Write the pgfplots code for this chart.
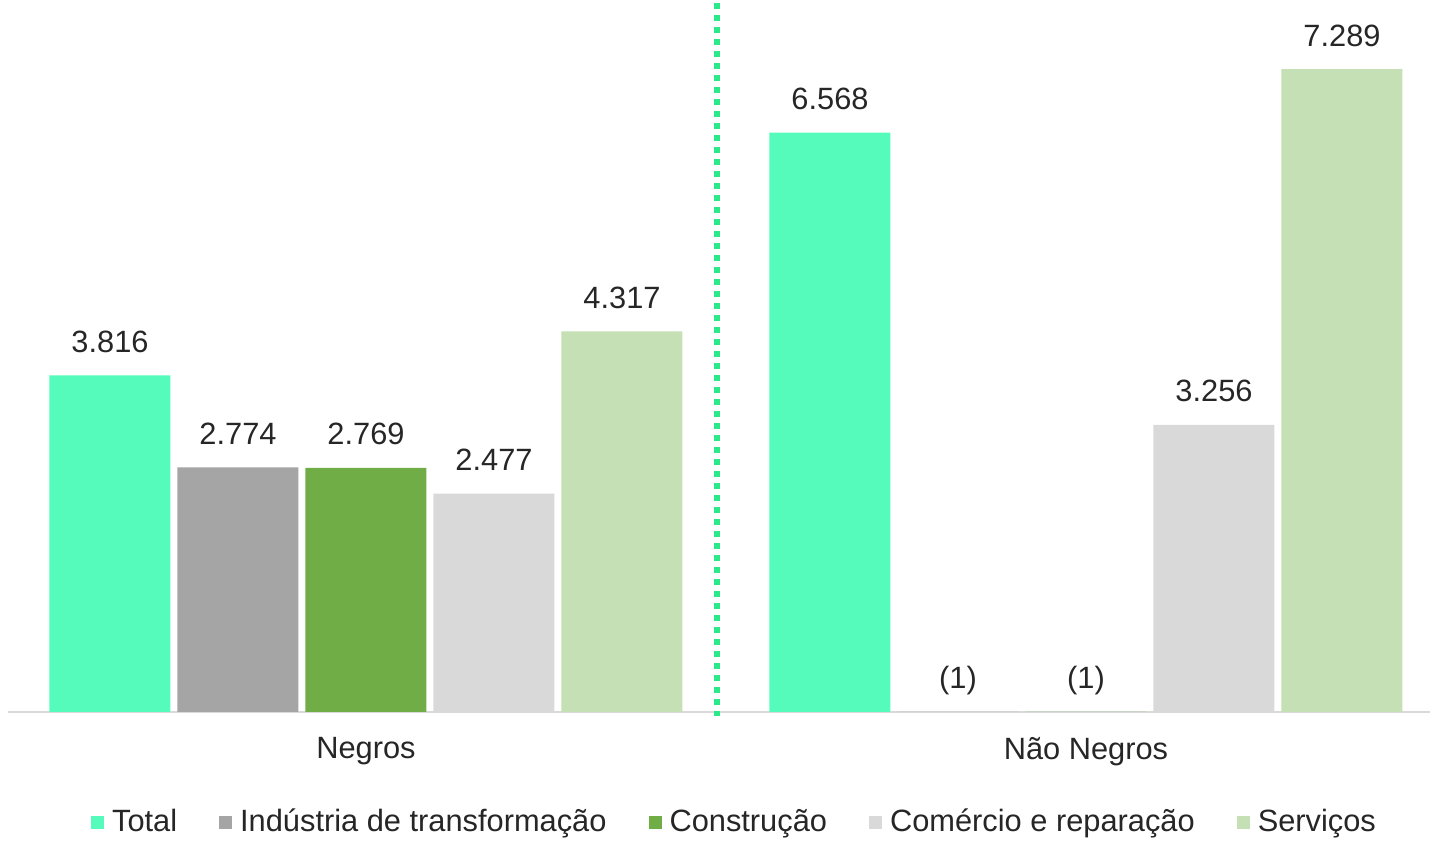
\documentclass[border=0pt]{standalone}
\usepackage{fontspec}
\setmainfont{Liberation Sans}
\usepackage{pgfplots}
\pgfplotsset{compat=1.18}
\usetikzlibrary{calc}
\definecolor{cTotal}{RGB}{84,251,186}
\definecolor{cInd}{RGB}{165,165,165}
\definecolor{cCon}{RGB}{112,173,71}
\definecolor{cCom}{RGB}{217,217,217}
\definecolor{cSer}{RGB}{197,224,180}
\definecolor{cSep}{RGB}{40,235,135}
\newcommand{\lbl}{\fontsize{15.4}{18}\selectfont}
\pgfplotsset{sqleg/.style={legend image code/.code={\fill[##1] (0pt,-3.25pt) rectangle (6.5pt,3.25pt);}}}
\begin{document}
\begin{tikzpicture}
\begin{axis}[
  scale only axis, width=711pt, height=356pt,
  xmin=-0.4972, xmax=1.4778, ymin=0, ymax=8073,
  ybar=3.5pt, bar width=60.5pt,
  axis y line=none, axis x line=bottom,
  x axis line style={-, draw=black!15, line width=1pt},
  xtick={0,1}, xticklabels={Negros, Não Negros},
  major tick length=0pt,
  xticklabel style={font=\lbl, text=black!85, yshift=-9pt},
  nodes near coords, point meta=explicit symbolic,
  every node near coord/.append style={font=\lbl, text=black!85, anchor=base, yshift=11.5pt},
  legend columns=-1,
  legend style={at={(0.5116,-0.1545)}, anchor=center, draw=none, font=\lbl,
    text=black!85,
    /tikz/every odd column/.append style={column sep=2pt},
    /tikz/every even column/.append style={column sep=19pt}},
  clip=false,
]
\addplot[fill=cTotal, draw=none, sqleg] coordinates {(0,3816) [3.816] (1,6568) [6.568]};
\addlegendentry{Total}
\addplot[fill=cInd, draw=none, sqleg] coordinates {(0,2774) [2.774] (1,0) [(1)]};
\addlegendentry{Indústria de transformação}
\addplot[fill=cCon, draw=none, sqleg] coordinates {(0,2769) [2.769] (1,0) [(1)]};
\addlegendentry{Construção}
\addplot[fill=cCom, draw=none, sqleg] coordinates {(0,2477) [2.477] (1,3256) [3.256]};
\addlegendentry{Comércio e reparação}
\addplot[fill=cSer, draw=none, sqleg] coordinates {(0,4317) [4.317] (1,7289) [7.289]};
\addlegendentry{Serviços}
\draw[cSep, line width=3pt, dash pattern=on 3pt off 3pt] (axis cs:0.4875,8035) -- (axis cs:0.4875,-40);
\coordinate (bl) at (rel axis cs:0,0);
\coordinate (tr) at (rel axis cs:1,1);
\end{axis}
\pgfresetboundingbox
\path ($(bl)+(-4pt,-64.5pt)$) rectangle ($(tr)+(1pt,0pt)$);
\end{tikzpicture}
\end{document}
